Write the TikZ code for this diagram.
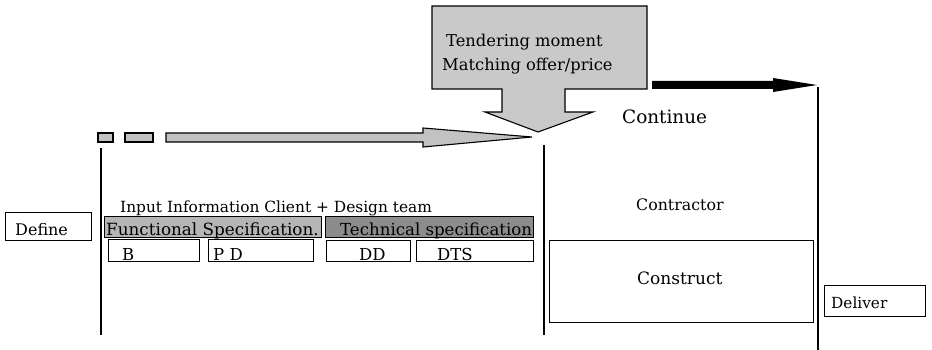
\documentclass[tikz,border=0pt]{standalone}
\usepackage{fontspec}
\setmainfont{DejaVu Serif}
\begin{document}
\begin{tikzpicture}[x=1pt,y=-1pt,
  box/.style={draw, line width=1.1pt, inner sep=0pt, anchor=north west},
  txt/.style={anchor=base west, inner sep=0pt},
  stage/.style={line width=1.1pt},
  lead/.style={draw, line width=1.1pt}]
\useasboundingbox (0,0) rectangle (932,350);
\definecolor{calloutgray}{gray}{0.79}
\definecolor{leadgray}{gray}{0.76}
\definecolor{funcgray}{gray}{0.71}
\definecolor{techgray}{gray}{0.55}

% stage boundaries
\coordinate (l1) at (101,148); \coordinate (l2) at (101,335);
\coordinate (m1) at (544,145); \coordinate (m2) at (544,335);
\coordinate (r1) at (818,87);  \coordinate (r2) at (818,350);
\draw[stage] (l1) -- (l2);
\draw[stage] (m1) -- (m2);
\draw[stage] (r1) -- (r2);

% dashed lead-in arrow towards the tender
\draw[lead, fill=leadgray] (98,133) rectangle (113,142);
\draw[lead, fill=leadgray] (125,133) rectangle (153,142);
\draw[lead, fill=leadgray] (166,133) -- (423,133) -- (423,128) -- (532,137)
  -- (423,147) -- (423,142) -- (166,142) -- cycle;

% tender callout
\draw[lead, fill=calloutgray] (432,6) -- (647,6) -- (647,89) -- (565,89)
  -- (565,112) -- (593,112) -- (538,132) -- (485,112) -- (502,112)
  -- (502,89) -- (432,89) -- cycle;
\node[txt, font=\fontsize{16.3}{18}\selectfont] (tender) at (446,47) {Tendering moment};
\node[txt, font=\fontsize{16.3}{18}\selectfont] (match) at (442,71) {Matching offer/price};

% black arrow to delivery
\fill (652,81) -- (773,81) -- (773,78) -- (817,85) -- (773,92) -- (773,89)
  -- (652,89) -- cycle;

\node[txt, font=\fontsize{18.4}{20}\selectfont] (cont) at (622,124) {Continue};
\node[txt, font=\fontsize{15.8}{18}\selectfont] (contractor) at (636,211) {Contractor};

% define stage
\node[box, minimum width=86pt, minimum height=28pt] (defbox) at (5,212) {};
\node[txt, font=\fontsize{16}{18}\selectfont] (define) at (15,235) {Define};

\node[txt, font=\fontsize{15.4}{17}\selectfont] (input) at (120,212)
  {Input Information Client + Design team};

\node[box, fill=funcgray, minimum width=217pt, minimum height=21pt] (func) at (104,216) {};
\node[txt, font=\fontsize{16.8}{18}\selectfont] (functxt) at (106,235) {Functional Specification.};
\node[box, fill=techgray, minimum width=208pt, minimum height=21pt] (tech) at (325,216) {};
\node[txt, font=\fontsize{16.6}{18}\selectfont] (techtxt) at (340,235) {Technical specification};

\node[box, minimum width=91pt, minimum height=22pt] (bbox) at (108,239) {};
\node[txt, font=\fontsize{16.5}{18}\selectfont] (btxt) at (122,260) {B};
\node[box, minimum width=105pt, minimum height=22pt] (pdbox) at (208,239) {};
\node[txt, font=\fontsize{16.5}{18}\selectfont] (pdtxt) at (213,260) {P D};
\node[box, minimum width=84pt, minimum height=21pt] (ddbox) at (326,240) {};
\node[txt, font=\fontsize{16.5}{18}\selectfont] (ddtxt) at (359,260) {DD};
\node[box, minimum width=117pt, minimum height=21pt] (dtsbox) at (416,240) {};
\node[txt, font=\fontsize{16.5}{18}\selectfont] (dtstxt) at (437,260) {DTS};

% construct and deliver
\node[box, minimum width=264pt, minimum height=82pt] (conbox) at (549,240) {};
\node[txt, font=\fontsize{17}{19}\selectfont] (construct) at (637,284) {Construct};
\node[box, minimum width=101pt, minimum height=31pt] (delbox) at (824,285) {};
\node[txt, font=\fontsize{15.3}{17}\selectfont] (deliver) at (831,308) {Deliver};
\end{tikzpicture}
\end{document}
